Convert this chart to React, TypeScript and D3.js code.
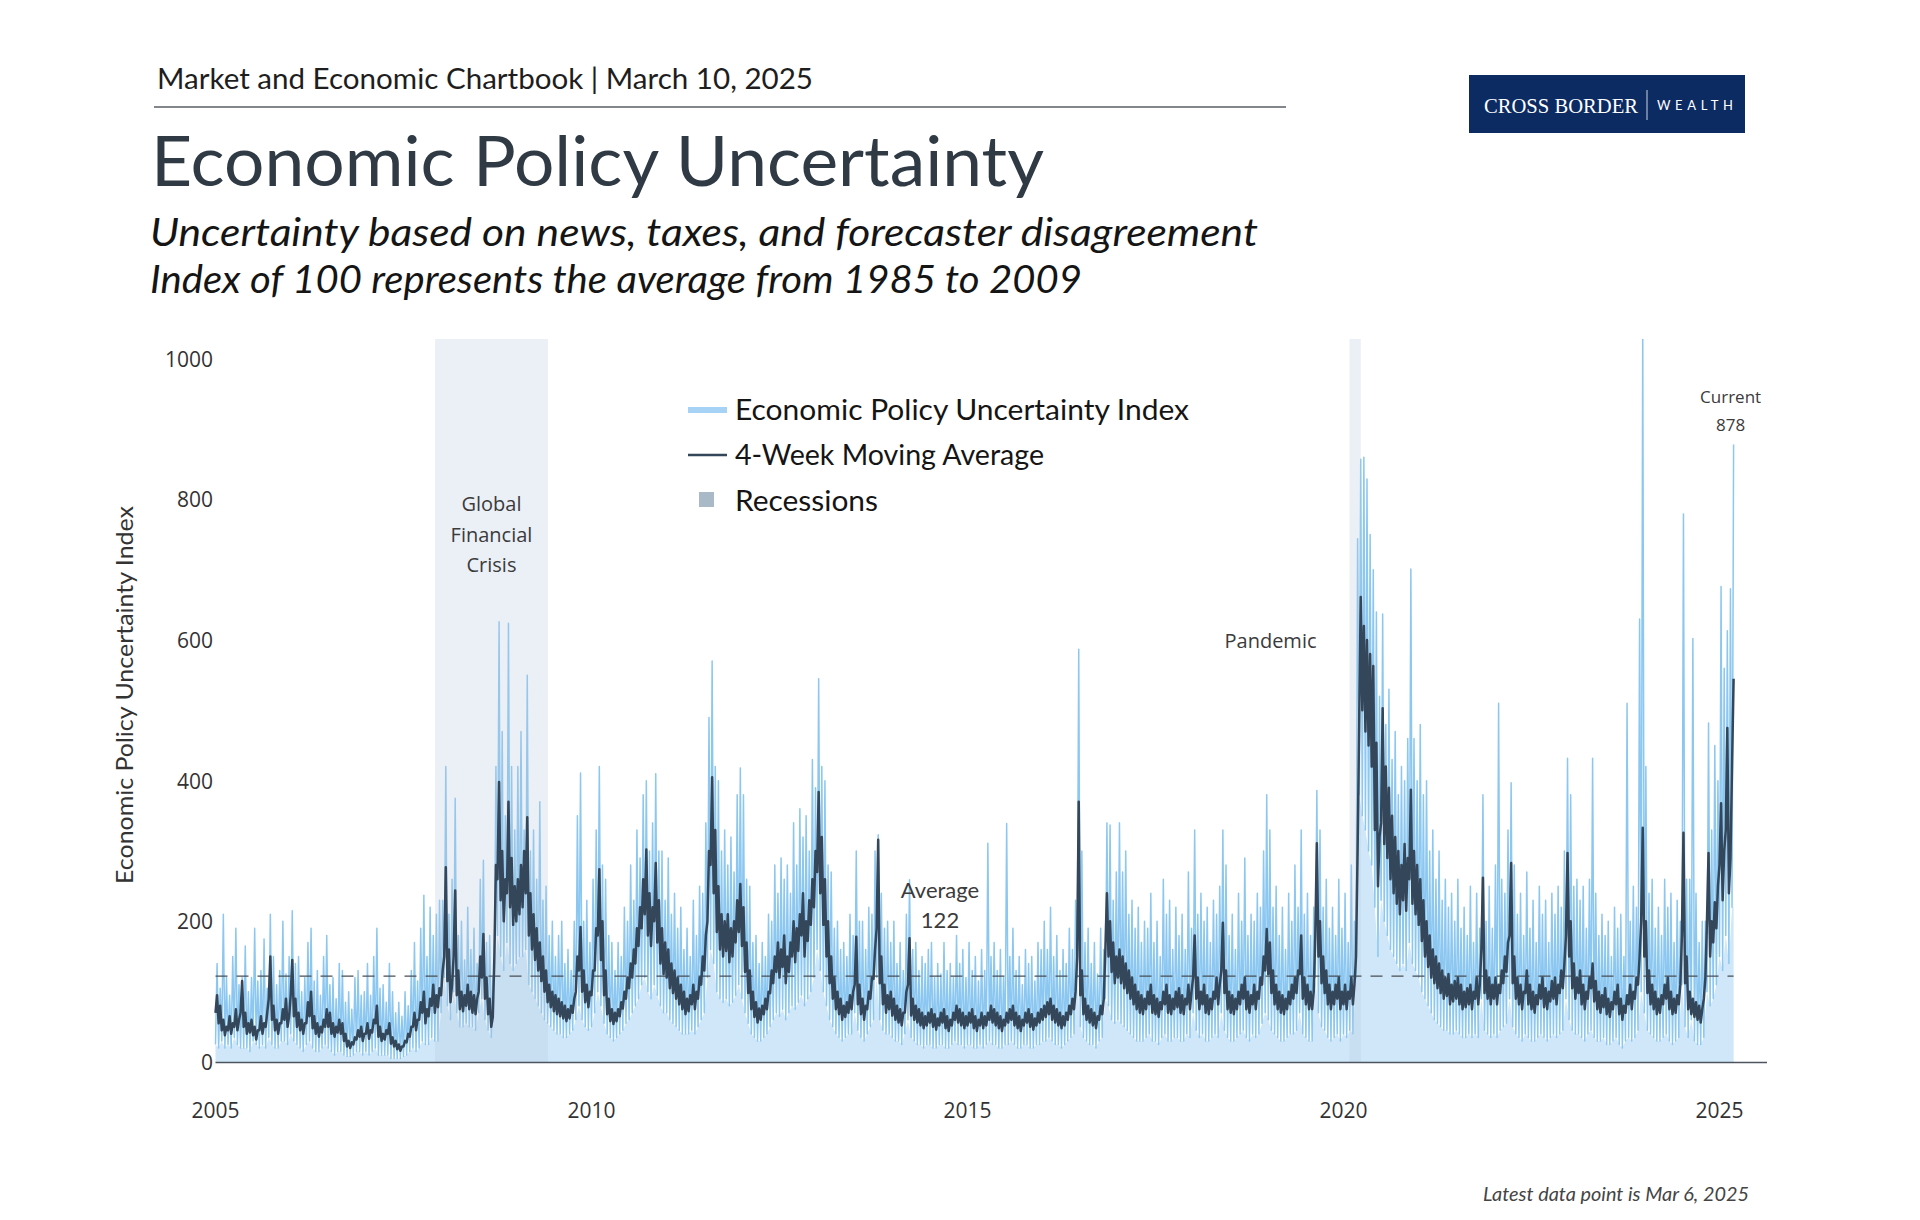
import React from "react";
import * as d3 from "d3";

// ---------- DATA (semi-monthly readings, Jan 2005 -> early Mar 2025) ----------
const START_YEAR = 2005;
const PERIODS_PER_YEAR = 24;

// Daily index: highest reading in each half-month
const epuHigh: number[] = [
  140,105,210,120,95,150,190,110,120,165,100,120,190,115,130,175,105,210,150,110,130,200,125,150, // 2005
  215,140,150,100,120,170,190,115,130,95,150,180,110,120,90,140,130,85,100,75,120,130,95,100, // 2006
  140,95,150,190,105,110,85,140,100,70,85,65,100,80,130,170,115,190,237,150,220,180,210,230, // 2007
  230,420,210,260,375,180,200,145,220,160,190,140,260,287,170,180,120,420,626,470,350,624,420,330, // 2008
  420,470,330,550,300,330,260,370,230,250,180,200,150,180,200,140,160,130,200,350,411,200,230,170, // 2009
  260,330,420,280,260,180,170,130,170,150,220,200,280,230,330,290,380,400,300,340,410,300,300,230, // 2010
  290,210,240,190,220,160,190,150,230,180,250,240,340,490,570,420,400,300,330,280,320,270,380,418, // 2011
  380,260,250,170,180,140,170,150,210,200,280,240,290,260,280,240,340,280,360,320,350,300,430,390, // 2012
  545,420,400,280,270,190,200,160,170,150,210,180,300,200,200,160,220,210,300,323,240,190,200,170, // 2013
  200,140,170,130,210,259,160,170,130,150,140,160,170,120,140,125,170,130,140,120,180,140,160,120, // 2014
  170,130,150,115,160,130,311,150,170,130,160,120,339,150,190,130,150,110,160,140,150,115,170,160, // 2015
  200,160,220,150,180,130,160,140,190,160,230,587,300,170,190,140,170,125,190,160,340,337,230,270, // 2016
  340,270,300,210,230,190,220,170,200,190,240,170,200,150,260,210,230,160,220,180,210,160,270,190, // 2017
  330,210,240,200,220,170,230,210,250,330,280,180,210,160,240,200,290,180,210,200,240,220,300,380, // 2018
  330,220,250,180,220,160,240,200,280,220,330,210,240,180,220,386,330,220,260,190,220,180,260,190, // 2019
  240,170,280,200,744,857,860,829,750,700,640,520,637,480,530,430,470,380,420,400,460,701,460,400, // 2020
  480,380,400,300,330,260,300,230,260,220,240,200,260,190,220,180,250,170,240,190,380,200,250,190, // 2021
  280,510,260,240,330,397,280,210,240,180,270,190,230,170,250,210,230,170,240,210,250,220,300,432, // 2022
  380,250,260,230,250,190,260,432,240,180,210,180,200,150,220,190,210,150,510,200,250,220,630,1050, // 2023
  420,240,260,190,220,180,260,220,240,170,230,200,779,260,260,602,240,170,200,200,482,330,450,400, // 2024
  676,560,613,673,878, // 2025
];

// Daily index: lowest reading in each half-month
const epuLow: number[] = [
  25,20,30,20,25,20,35,25,20,20,20,15,30,25,20,25,20,35,25,20,20,30,30,25, // 2005
  40,30,25,20,15,25,30,20,15,15,20,25,20,15,10,15,15,10,8,8,10,15,15,10, // 2006
  15,10,15,20,10,10,10,10,5,5,5,5,8,10,15,20,15,20,30,25,25,35,30,30, // 2007
  70,120,80,60,100,70,50,50,55,50,50,45,70,90,60,45,35,120,180,150,130,170,140,130, // 2008
  140,150,150,160,110,100,90,80,70,60,55,50,45,40,40,35,35,40,45,60,80,60,50,45, // 2009
  50,70,100,80,55,40,35,30,35,40,45,55,60,70,80,90,110,120,100,90,110,95,80,70, // 2010
  70,60,55,50,45,40,40,40,45,40,50,60,70,120,160,140,100,90,85,90,80,85,95,110, // 2011
  90,70,55,40,35,30,30,35,40,50,60,70,65,75,60,70,80,75,85,95,80,90,100,120, // 2012
  160,130,100,80,60,50,40,35,30,35,40,40,70,45,35,30,40,50,60,120,60,45,40,40, // 2013
  35,30,30,25,40,60,35,30,25,25,20,25,25,20,20,25,25,20,20,25,30,25,25,20, // 2014
  25,25,20,20,25,20,25,30,25,25,20,20,25,25,30,25,20,20,25,25,20,20,25,25, // 2015
  30,30,35,30,25,25,20,25,30,35,40,120,50,35,30,25,25,20,30,35,90,80,60,55, // 2016
  60,55,50,45,40,35,30,30,30,35,40,30,30,25,35,40,30,30,35,35,30,30,40,35, // 2017
  70,45,35,40,30,30,35,40,35,70,45,35,30,30,35,40,45,35,30,40,35,40,55,70, // 2018
  60,45,40,35,30,30,35,40,40,45,70,40,35,30,30,120,70,50,45,35,30,35,40,30, // 2019
  40,35,45,40,120,380,350,330,300,280,220,150,230,200,180,160,150,140,130,140,130,170,140,130, // 2020
  120,100,90,80,70,60,55,50,45,45,40,40,45,40,35,35,40,35,40,35,90,45,40,35, // 2021
  40,35,45,50,55,90,50,40,35,30,40,35,30,30,35,40,35,30,35,40,35,40,45,90, // 2022
  60,45,40,40,35,30,40,45,35,30,30,35,25,25,30,35,25,20,30,35,30,35,45,100, // 2023
  70,45,40,35,30,30,35,40,30,25,30,35,110,50,35,60,30,25,25,35,100,80,90,110, // 2024
  150,130,180,140,220, // 2025
];

// 4-week moving average: top of its range in each half-month
const movingAvgTop: number[] = [
  95,80,60,50,65,55,75,60,115,70,55,60,50,45,65,55,70,150,80,60,55,75,90,65, // 2005
  145,90,70,60,55,85,100,65,55,50,60,75,70,55,50,60,55,40,30,28,35,45,50,40, // 2006
  55,45,60,80,50,40,45,55,35,30,25,22,30,40,50,70,60,85,100,75,90,110,95,105, // 2007
  130,277,160,110,244,130,100,95,110,100,95,90,150,182,120,90,64,280,398,300,260,370,290,250, // 2008
  260,280,300,348,240,210,190,170,150,130,110,100,95,90,85,80,75,80,90,150,192,130,110,100, // 2009
  130,190,274,200,130,90,75,70,75,85,100,120,140,160,190,220,260,302,240,220,283,230,190,170, // 2010
  160,140,130,120,110,100,90,95,110,100,120,150,180,300,405,330,250,210,200,210,190,200,230,253, // 2011
  220,170,130,100,85,76,80,90,100,130,150,170,160,180,150,170,200,190,210,240,200,230,260,300, // 2012
  384,320,260,200,150,120,100,90,80,85,95,100,178,110,90,80,100,120,160,316,150,110,95,100, // 2013
  90,80,75,70,100,176,90,80,75,70,65,70,75,68,62,70,75,65,60,70,80,75,70,65, // 2014
  70,75,65,60,70,65,70,80,75,70,65,60,70,75,80,70,65,60,70,75,68,62,70,75, // 2015
  80,85,90,80,75,70,65,70,80,90,100,370,130,90,80,75,70,65,80,90,240,200,170,150, // 2016
  160,150,140,130,120,110,100,95,90,100,110,95,90,85,100,110,95,90,100,105,95,90,110,100, // 2017
  180,120,100,110,95,90,100,120,110,198,130,100,95,90,100,110,120,100,95,110,100,120,150,189, // 2018
  170,130,110,100,95,90,100,110,120,130,180,120,110,100,100,311,200,150,130,110,100,110,120,100, // 2019
  110,100,120,110,300,661,620,600,580,563,454,320,503,420,390,350,320,300,280,310,290,387,300,280, // 2020
  260,230,200,180,160,150,140,130,120,125,110,115,120,110,100,105,110,100,120,110,262,130,120,110, // 2021
  120,110,130,150,170,283,150,120,110,100,130,110,100,95,110,120,105,100,115,120,110,130,140,297, // 2022
  200,140,120,130,110,100,120,140,115,100,95,105,90,85,100,110,90,80,95,110,100,120,150,333, // 2023
  200,130,110,100,90,95,110,120,100,90,95,110,326,150,100,90,85,80,75,120,297,200,227,250, // 2024
  368,300,475,290,545, // 2025
];

// 4-week moving average: bottom of its range in each half-month
const movingAvgBottom: number[] = [
  70,55,45,38,45,40,50,45,70,50,40,42,38,32,45,40,50,90,60,45,40,55,60,50, // 2005
  95,65,50,45,40,55,65,48,40,36,42,50,50,40,36,42,40,30,22,20,25,32,36,30, // 2006
  40,33,42,55,36,30,32,40,26,22,18,16,22,28,36,50,45,60,70,55,65,80,70,78, // 2007
  95,150,115,85,150,95,75,72,80,75,70,68,100,120,90,68,50,150,260,230,200,240,220,195, // 2008
  200,210,220,240,180,160,145,130,115,100,85,78,72,68,65,62,58,62,70,100,130,100,85,78, // 2009
  95,130,180,145,95,68,58,54,58,65,76,90,105,120,140,165,190,210,180,165,200,170,140,125, // 2010
  120,105,98,90,82,75,68,72,82,75,90,110,130,200,280,240,185,160,150,158,142,150,170,185, // 2011
  165,128,98,75,64,56,60,68,75,98,112,128,120,135,112,128,150,142,158,180,150,172,195,220, // 2012
  270,240,195,150,112,90,75,68,60,64,70,75,110,82,68,60,75,90,118,190,112,82,70,75, // 2013
  66,60,56,52,70,110,66,60,56,52,48,52,56,50,46,52,56,48,44,52,60,56,52,48, // 2014
  52,56,48,44,52,48,52,60,56,52,48,44,52,56,60,52,48,44,52,56,50,46,52,56, // 2015
  60,64,68,60,56,52,48,52,60,68,75,150,95,68,60,56,52,48,60,68,160,150,128,112, // 2016
  120,112,105,98,90,82,75,70,68,75,82,70,68,64,75,82,70,68,75,78,70,68,82,75, // 2017
  120,90,75,82,70,68,75,90,82,130,98,75,70,68,75,82,90,75,70,82,75,90,110,130, // 2018
  125,98,82,75,70,68,75,82,90,98,125,90,82,75,75,180,150,112,98,82,75,82,90,75, // 2019
  82,75,90,82,150,480,500,470,450,420,330,250,340,310,290,260,240,225,210,230,215,260,225,210, // 2020
  195,172,150,135,120,112,105,98,90,94,82,86,90,82,75,78,82,75,90,82,160,98,90,82, // 2021
  90,82,98,112,128,180,112,90,82,75,98,82,75,70,82,90,78,75,86,90,82,98,105,180, // 2022
  150,105,90,98,82,75,90,105,86,75,70,78,68,64,75,82,68,60,70,82,75,90,110,200, // 2023
  150,98,82,75,68,70,82,90,75,68,70,82,180,112,75,68,64,60,56,90,200,150,170,190, // 2024
  280,230,330,240,420, // 2025
];

const xTickYears = [2005, 2010, 2015, 2020, 2025];
const yTickValues = [0, 200, 400, 600, 800, 1000];
const recessionStarts = [2007.92, 2020.08];
const recessionEnds = [2009.42, 2020.23];
const averageValue = 122;
const currentValue = 878;
const yMax = 1028;

// ---------- STYLE ----------
const FONT_MAIN = "Lato, 'Noto Sans', sans-serif";
const FONT_ANNOT = "'Open Sans', 'Noto Sans', sans-serif";
const LIGHT_LINE = "#8bc7f0";
const LIGHT_AREA = "#cfe7f9";
const DARK_LINE = "#33465a";

export default function App() {
  const W = 1920;
  const H = 1220;
  const plotLeft = 215.5;
  const plotRight2025 = 1719.5;
  const axisEnd = 1767;
  const plotTop = 339;
  const plotBottom = 1062;

  const x = d3.scaleLinear().domain([2005, 2025]).range([plotLeft, plotRight2025]);
  const y = d3.scaleLinear().domain([0, yMax]).range([plotBottom, plotTop]);

  const step = 1 / PERIODS_PER_YEAR;
  const times = movingAvgTop.map((_, i) => START_YEAR + i * step);

  const zig: [number, number][] = [];
  const maZig: [number, number][] = [];
  times.forEach((t, i) => {
    zig.push([t, epuLow[i]]);
    zig.push([t + step / 2, epuHigh[i]]);
    maZig.push([t, movingAvgBottom[i]]);
    maZig.push([t + step / 2, movingAvgTop[i]]);
  });
  const lastT = times[times.length - 1] + step / 2;

  const lowPts: [number, number][] = times.map((t, i) => [t, epuLow[i]]);
  lowPts.push([lastT, epuLow[epuLow.length - 1]]);

  const areaGen = d3
    .area<[number, number]>()
    .x((d) => x(d[0]))
    .y0(y(0))
    .y1((d) => y(d[1]));
  const lineGen = d3
    .line<[number, number]>()
    .x((d) => x(d[0]))
    .y((d) => y(d[1]));

  const gfcMid = (x(recessionStarts[0]) + x(recessionEnds[0])) / 2;

  return (
    <svg
      width={W}
      height={H}
      viewBox={`0 0 ${W} ${H}`}
      style={{ position: "absolute", left: 0, top: 0, background: "#fff" }}
    >
      <rect x={0} y={0} width={W} height={H} fill="#ffffff" />
      <defs>
        <clipPath id="plotClip">
          <rect x={plotLeft - 2} y={plotTop} width={axisEnd - plotLeft + 2} height={plotBottom - plotTop} />
        </clipPath>
      </defs>

      {/* Header */}
      <text x={157} y={89} fontFamily={FONT_MAIN} fontSize={28} fill="#1e1e1e" textLength={656} lengthAdjust="spacingAndGlyphs">
        Market and Economic Chartbook | March 10, 2025
      </text>
      <line x1={154} x2={1286} y1={107} y2={107} stroke="#5a5f66" strokeWidth={1.5} />
      <text x={151} y={186} fontFamily={FONT_MAIN} fontSize={69} fill="#2f3a45" textLength={893} lengthAdjust="spacingAndGlyphs">
        Economic Policy Uncertainty
      </text>
      <text x={150} y={246} fontFamily={FONT_MAIN} fontStyle="italic" fontSize={38} fill="#151515" textLength={1108} lengthAdjust="spacingAndGlyphs">
        Uncertainty based on news, taxes, and forecaster disagreement
      </text>
      <text x={150} y={293} fontFamily={FONT_MAIN} fontStyle="italic" fontSize={38} fill="#151515" textLength={932} lengthAdjust="spacingAndGlyphs">
        Index of 100 represents the average from 1985 to 2009
      </text>

      {/* Logo */}
      <rect x={1469} y={75} width={276} height={58} fill="#0c2b62" />
      <text x={1484} y={113} fontFamily="'Liberation Serif', 'DejaVu Serif', serif" fontSize={22} fill="#ffffff" textLength={154} lengthAdjust="spacingAndGlyphs">
        CROSS BORDER
      </text>
      <line x1={1647} x2={1647} y1={90} y2={120} stroke="#ffffff" strokeWidth={1} opacity={0.8} />
      <text x={1657} y={110} fontFamily={FONT_MAIN} fontSize={13} fill="#ffffff" textLength={76} lengthAdjust="spacing">
        WEALTH
      </text>

      {/* Y axis title */}
      <text
        transform={`translate(133, 695) rotate(-90)`}
        textAnchor="middle"
        fontFamily={FONT_MAIN}
        fontSize={24}
        fill="#333"
        textLength={378}
        lengthAdjust="spacingAndGlyphs"
      >
        Economic Policy Uncertainty Index
      </text>

      {/* Y tick labels */}
      {yTickValues.map((v) => (
        <text key={v} x={213} y={y(v) + 8} textAnchor="end" fontFamily={FONT_ANNOT} fontSize={21} fill="#333">
          {v}
        </text>
      ))}

      {/* X tick labels */}
      {xTickYears.map((yr) => (
        <text key={yr} x={x(yr)} y={1118} textAnchor="middle" fontFamily={FONT_ANNOT} fontSize={21} fill="#333">
          {yr}
        </text>
      ))}

      <g clipPath="url(#plotClip)">
        {/* pale area */}
        <path d={areaGen(lowPts) || ""} fill={LIGHT_AREA} />
        {/* daily index */}
        <path d={lineGen(zig) || ""} fill="none" stroke={LIGHT_LINE} strokeWidth={1.5} strokeLinejoin="round" />
        {/* recession shading */}
        {recessionStarts.map((s, i) => (
          <rect
            key={s}
            x={x(s)}
            y={plotTop}
            width={x(recessionEnds[i]) - x(s)}
            height={plotBottom - plotTop}
            fill="#b4c6dc"
            opacity={0.27}
          />
        ))}
        {/* average line */}
        <line
          x1={x(2005)}
          x2={x(lastT)}
          y1={y(averageValue)}
          y2={y(averageValue)}
          stroke="#4a4f55"
          strokeWidth={1.3}
          strokeDasharray="12 9"
        />
        {/* moving average */}
        <path d={lineGen(maZig) || ""} fill="none" stroke={DARK_LINE} strokeWidth={2.5} strokeLinejoin="round" />
      </g>

      {/* x axis line */}
      <line x1={plotLeft} x2={axisEnd} y1={plotBottom + 0.5} y2={plotBottom + 0.5} stroke="#4b5560" strokeWidth={1.5} />

      {/* Annotations */}
      {["Global", "Financial", "Crisis"].map((s, i) => (
        <text key={s} x={gfcMid} y={511 + i * 30.5} textAnchor="middle" fontFamily={FONT_ANNOT} fontSize={20} fill="#3b3b3b">
          {s}
        </text>
      ))}
      <text x={x(recessionStarts[1]) - 33} y={648} textAnchor="end" fontFamily={FONT_ANNOT} fontSize={20} fill="#3b3b3b">
        Pandemic
      </text>
      <text x={940} y={898} textAnchor="middle" fontFamily={FONT_MAIN} fontSize={22} fill="#3b3b3b">
        Average
      </text>
      <text x={940} y={928} textAnchor="middle" fontFamily={FONT_MAIN} fontSize={22} fill="#3b3b3b">
        {averageValue}
      </text>
      <text x={x(lastT) - 3} y={403} textAnchor="middle" fontFamily={FONT_ANNOT} fontSize={17} fill="#3b3b3b">
        Current
      </text>
      <text x={x(lastT) - 3} y={431} textAnchor="middle" fontFamily={FONT_ANNOT} fontSize={17} fill="#3b3b3b">
        {currentValue}
      </text>

      {/* Legend */}
      <line x1={688} x2={727} y1={410} y2={410} stroke="#a6d3f5" strokeWidth={6} />
      <text x={735} y={420} fontFamily={FONT_MAIN} fontSize={29} fill="#151515" textLength={454} lengthAdjust="spacingAndGlyphs">
        Economic Policy Uncertainty Index
      </text>
      <line x1={688} x2={727} y1={455} y2={455} stroke={DARK_LINE} strokeWidth={2.5} />
      <text x={735} y={465} fontFamily={FONT_MAIN} fontSize={29} fill="#151515" textLength={309} lengthAdjust="spacingAndGlyphs">
        4-Week Moving Average
      </text>
      <rect x={699} y={492} width={15} height={15} fill="#aab9c7" />
      <text x={735} y={511} fontFamily={FONT_MAIN} fontSize={29} fill="#151515" textLength={143} lengthAdjust="spacingAndGlyphs">
        Recessions
      </text>

      {/* Footnote */}
      <text x={1749} y={1201} textAnchor="end" fontFamily={FONT_MAIN} fontStyle="italic" fontSize={19} fill="#444" textLength={266} lengthAdjust="spacingAndGlyphs">
        Latest data point is Mar 6, 2025
      </text>
    </svg>
  );
}
